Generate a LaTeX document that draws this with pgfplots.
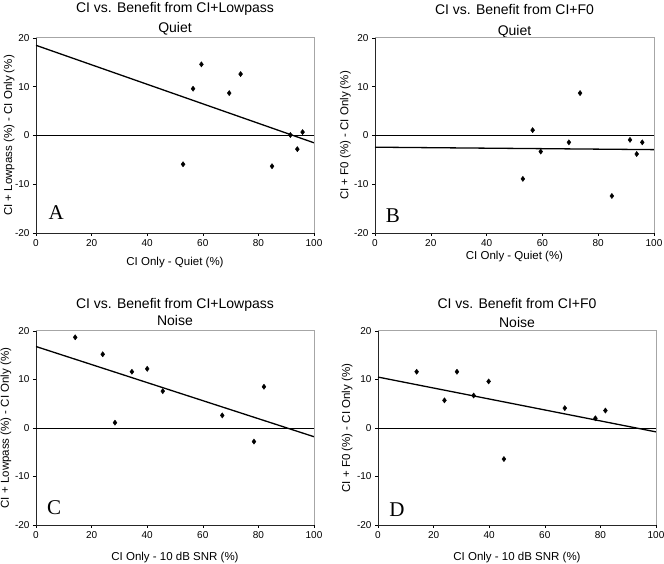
\documentclass[border=0pt]{standalone}
\usepackage{pgfplots}
\pgfplotsset{compat=1.18}
\usepackage{fontspec}
\setmainfont{Liberation Sans}
\newfontfamily\letterfont{Liberation Serif}

\pgfplotsset{
 panel/.style={
  scale only axis, width=278pt, height=195pt,
  xmin=0,xmax=100,ymin=-20,ymax=20,
  xtick={0,20,...,100}, ytick={-20,-10,0,10,20},
  axis lines=left, axis line style={-, black!85, line width=0.8pt},
  tick align=outside, major tick length=3pt, tick style={black, line width=0.6pt},
  tick label style={font=\fontsize{10}{12}\selectfont},
  /pgf/number format/assume math mode=true,
  label style={font=\fontsize{11.5}{13}\selectfont},
  clip=false,
  anchor=south west,
  after end axis/.code={\draw[gray!70, line width=1pt] (rel axis cs:0,1) -- (rel axis cs:1,1) -- (rel axis cs:1,0);},
 },
 pts/.style={only marks, mark=diamond*, mark size=2.6pt, black},
 fit/.style={black, line width=1.3pt, no marks},
 zero/.style={black, line width=0.8pt, no marks},
}
\newcommand{\ttl}{\fontsize{14}{16}\selectfont}
\newcommand{\ltr}{\letterfont\fontsize{21}{24}\selectfont}

\begin{document}
\begin{tikzpicture}
\useasboundingbox (0,0) rectangle (664pt,564pt);

% Panel A
\begin{axis}[panel, at={(36pt,331pt)},
  xlabel={CI Only - Quiet (\%)},
  ylabel={CI + Lowpass (\%) - CI Only (\%)},
  xlabel style={at={(axis description cs:0.5,-0.154)}, anchor=center},
  ylabel style={at={(axis description cs:-0.097,0.5)}, anchor=center}]
\addplot[zero] coordinates {(0,0) (100,0)};
\addplot[fit] coordinates {(0,18.5) (100,-1.5)};
\addplot[pts] coordinates {(59.5,14.6) (73.6,12.6) (56.5,9.6) (69.5,8.7) (91.5,0.1) (95.9,0.7) (94.0,-2.8) (52.9,-5.9) (84.9,-6.3)};
\node[font=\ttl] at (axis description cs:0.5,1.149) {CI vs. Benefit from CI+Lowpass};
\node[font=\ttl] at (axis description cs:0.5,1.046) {Quiet};
\node[font=\ltr] at (axis cs:7.3,-15.9) {A};
\end{axis}

% Panel B
\begin{axis}[panel, at={(375pt,331pt)}, width=279pt,
  xlabel={CI Only - Quiet (\%)},
  ylabel={CI + F0 (\%) - CI Only (\%)},
  xlabel style={at={(axis description cs:0.5,-0.123)}, anchor=center},
  ylabel style={at={(axis description cs:-0.106,0.5)}, anchor=center}]
\addplot[zero] coordinates {(0,0) (100,0)};
\addplot[fit] coordinates {(0,-2.4) (100,-2.9)};
\addplot[pts] coordinates {(73.5,8.7) (56.5,1.1) (69.5,-1.4) (91.4,-0.9) (95.8,-1.4) (59.4,-3.3) (93.8,-3.8) (53.0,-8.9) (84.9,-12.4)};
\node[font=\ttl] at (axis description cs:0.5,1.144) {CI vs. Benefit from CI+F0};
\node[font=\ttl] at (axis description cs:0.5,1.031) {Quiet};
\node[font=\ltr] at (axis cs:6.4,-16.5) {B};
\end{axis}

% Panel C
\begin{axis}[panel, at={(36pt,39pt)}, height=194pt,
  xlabel={CI Only - 10 dB SNR (\%)},
  ylabel={CI + Lowpass (\%) - CI Only (\%)},
  xlabel style={at={(axis description cs:0.5,-0.17)}, anchor=center},
  ylabel style={at={(axis description cs:-0.108,0.5)}, anchor=center}]
\addplot[zero] coordinates {(0,0) (100,0)};
\addplot[fit] coordinates {(0,16.8) (100,-1.8)};
\addplot[pts] coordinates {(14.1,18.7) (24.0,15.2) (34.5,11.6) (40.0,12.2) (45.6,7.6) (28.4,1.1) (82.0,8.5) (67.0,2.6) (78.4,-2.8)};
\node[font=\ttl] at (axis description cs:0.5,1.136) {CI vs. Benefit from CI+Lowpass};
\node[font=\ttl] at (axis description cs:0.5,1.052) {Noise};
\node[font=\ltr] at (axis cs:6.5,-16.5) {C};
\end{axis}

% Panel D
\begin{axis}[panel, at={(378pt,39pt)}, height=194pt,
  xlabel={CI Only - 10 dB SNR (\%)},
  ylabel={CI + F0 (\%) - CI Only (\%)},
  xlabel style={at={(axis description cs:0.5,-0.17)}, anchor=center},
  ylabel style={at={(axis description cs:-0.111,0.5)}, anchor=center}]
\addplot[zero] coordinates {(0,0) (100,0)};
\addplot[fit] coordinates {(0,10.5) (100,-0.8)};
\addplot[pts] coordinates {(13.9,11.6) (28.4,11.6) (39.8,9.6) (23.9,5.7) (34.4,6.7) (45.3,-6.4) (67.2,4.1) (81.8,3.6) (78.2,2.0)};
\node[font=\ttl] at (axis description cs:0.5,1.141) {CI vs. Benefit from CI+F0};
\node[font=\ttl] at (axis description cs:0.5,1.046) {Noise};
\node[font=\ltr] at (axis cs:6.8,-16.8) {D};
\end{axis}
\end{tikzpicture}
\end{document}
